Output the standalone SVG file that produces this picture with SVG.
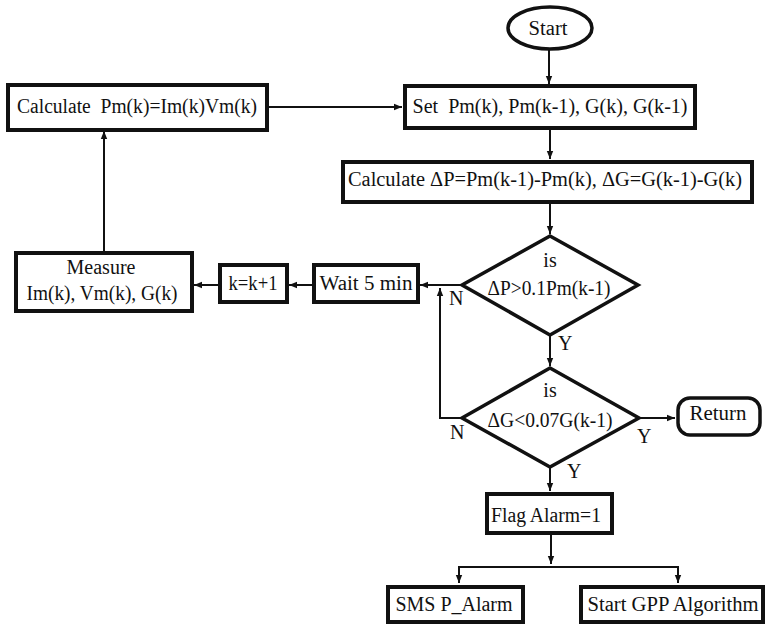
<svg xmlns="http://www.w3.org/2000/svg" width="765" height="624" viewBox="0 0 765 624">
<style>
text{font-family:"Liberation Serif","Times New Roman",serif;font-size:20px;fill:#111;text-anchor:middle;white-space:pre}
.box{fill:#fff;stroke:#111;stroke-width:4}
.dia{fill:#fff;stroke:#111;stroke-width:3.5;stroke-linejoin:miter}
.c{fill:none;stroke:#111;stroke-width:2}
.lbl{text-anchor:start}
</style>
<defs>
<marker id="ah" viewBox="0 0 10 10" refX="10" refY="5" markerWidth="8" markerHeight="8" markerUnits="userSpaceOnUse" orient="auto">
<path d="M0,1 L10,5 L0,9 Z" fill="#111"/>
</marker>
</defs>
<rect width="765" height="624" fill="#fff"/>
<g id="connectors">
<path class="c" d="M549,49 V84" marker-end="url(#ah)"/>
<path class="c" d="M267,107 H402" marker-end="url(#ah)"/>
<path class="c" d="M550,129 V159" marker-end="url(#ah)"/>
<path class="c" d="M550,203 V234" marker-end="url(#ah)"/>
<path class="c" d="M462,285 H420" marker-end="url(#ah)"/>
<path class="c" d="M313,285 H289" marker-end="url(#ah)"/>
<path class="c" d="M219,285 H194" marker-end="url(#ah)"/>
<path class="c" d="M104,252 V131" marker-end="url(#ah)"/>
<path class="c" d="M550,335 V366" marker-end="url(#ah)"/>
<path class="c" d="M462,418 H440 V288" marker-end="url(#ah)"/>
<path class="c" d="M639,418 H675" marker-end="url(#ah)"/>
<path class="c" d="M550,467 V491" marker-end="url(#ah)"/>
<path class="c" d="M551,534 V564" marker-end="url(#ah)"/>
<path class="c" d="M459,581 V567 H678 V581" />
<path class="c" d="M459,570 V583" marker-end="url(#ah)"/>
<path class="c" d="M678,570 V583" marker-end="url(#ah)"/>
</g>
<g id="start"><ellipse cx="550" cy="28" rx="42" ry="21" fill="#fff" stroke="#111" stroke-width="3.5"/><text x="548" y="35" textLength="39" lengthAdjust="spacingAndGlyphs">Start</text></g>
<g id="calcPm"><rect class="box" x="8" y="85" width="259" height="45"/><text x="137" y="113" textLength="240" lengthAdjust="spacingAndGlyphs">Calculate  Pm(k)=Im(k)Vm(k)</text></g>
<g id="set"><rect class="box" x="405" y="86" width="290" height="42"/><text x="550" y="113" textLength="275" lengthAdjust="spacingAndGlyphs">Set  Pm(k), Pm(k-1), G(k), G(k-1)</text></g>
<g id="calcDelta"><rect class="box" x="343" y="162" width="409" height="40"/><text x="545" y="186" textLength="394" lengthAdjust="spacingAndGlyphs">Calculate ΔP=Pm(k-1)-Pm(k), ΔG=G(k-1)-G(k)</text></g>
<g id="dec1"><path class="dia" d="M550,236 L638,285 L550,335 L462,285 Z"/><text x="550" y="267">is</text><text x="549" y="295" textLength="123" lengthAdjust="spacingAndGlyphs">ΔP&gt;0.1Pm(k-1)</text></g>
<g id="wait"><rect class="box" x="314" y="265" width="104" height="37"/><text x="366" y="290" textLength="93" lengthAdjust="spacingAndGlyphs">Wait 5 min</text></g>
<g id="inc"><rect class="box" x="220" y="265" width="67" height="37"/><text x="253" y="290" textLength="49" lengthAdjust="spacingAndGlyphs">k=k+1</text></g>
<g id="measure"><rect class="box" x="16" y="253" width="176" height="58"/><text x="101" y="274">Measure</text><text x="102" y="300" textLength="151" lengthAdjust="spacingAndGlyphs">Im(k), Vm(k), G(k)</text></g>
<g id="dec2"><path class="dia" d="M550,368 L639,418 L550,467 L462,418 Z"/><text x="550" y="397">is</text><text x="550" y="427" textLength="125" lengthAdjust="spacingAndGlyphs">ΔG&lt;0.07G(k-1)</text></g>
<g id="return"><rect x="678" y="398" width="82" height="37" rx="12" fill="#fff" stroke="#111" stroke-width="3.5"/><text x="718" y="420" textLength="57" lengthAdjust="spacingAndGlyphs">Return</text></g>
<g id="flag"><rect class="box" x="487" y="494" width="125" height="39"/><text x="546" y="522" textLength="110" lengthAdjust="spacingAndGlyphs">Flag Alarm=1</text></g>
<g id="sms"><rect class="box" x="388" y="587" width="135" height="35"/><text x="454" y="611" textLength="117" lengthAdjust="spacingAndGlyphs">SMS P_Alarm</text></g>
<g id="gpp"><rect class="box" x="581" y="587" width="182" height="35"/><text x="673" y="611" textLength="171" lengthAdjust="spacingAndGlyphs">Start GPP Algorithm</text></g>
<g id="labels">
<text class="lbl" x="449" y="305">N</text>
<text class="lbl" x="558" y="350">Y</text>
<text class="lbl" x="450" y="439">N</text>
<text class="lbl" x="637" y="443">Y</text>
<text class="lbl" x="567" y="478">Y</text>
</g>
</svg>
